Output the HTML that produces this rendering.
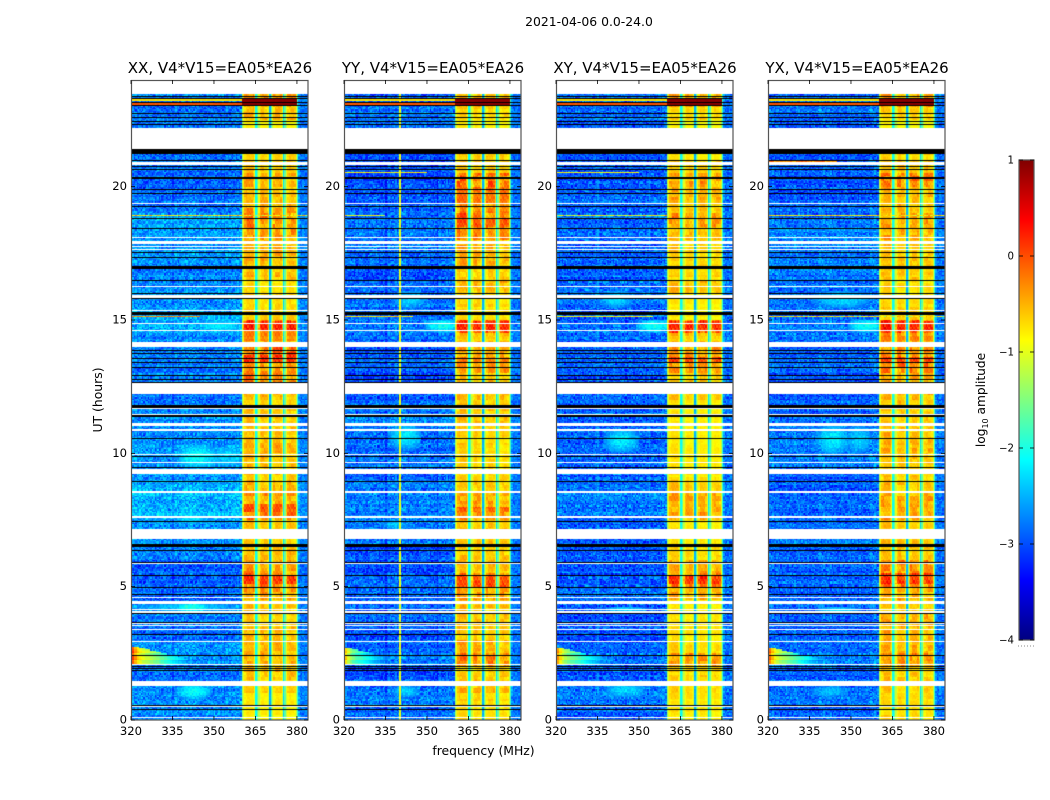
<!DOCTYPE html>
<html lang="en">
<head>
<meta charset="utf-8">
<title>2021-04-06 0.0-24.0 amplitude waterfall</title>
<style>
html,body{margin:0;padding:0;background:#fff}
#stage{position:relative;width:1050px;height:800px;overflow:hidden;background:#fff;font-family:"DejaVu Sans","Liberation Sans",sans-serif}
canvas{position:absolute;display:block}
svg{position:absolute;left:0;top:0}
svg text{font-family:"DejaVu Sans","Liberation Sans",sans-serif;fill:#000}
</style>
</head>
<body>
<div id="stage">
<svg id="overlay" width="1050" height="800" viewBox="0 0 1050 800">
  <defs>
    <linearGradient id="jetGradient" x1="0" y1="1" x2="0" y2="0"></linearGradient>
  </defs>
  <text x="589" y="26" text-anchor="middle" font-size="12.4">2021-04-06 0.0-24.0</text>
  <text x="483.5" y="755" text-anchor="middle" font-size="12.4">frequency (MHz)</text>
  <text transform="translate(102,400) rotate(-90)" text-anchor="middle" font-size="12.4">UT (hours)</text>
  <text transform="translate(985,400) rotate(-90)" text-anchor="middle" font-size="12.2">log<tspan font-size="8" dy="3">10</tspan><tspan dy="-3"> amplitude</tspan></text>
  <line x1="1018" y1="646" x2="1035" y2="646" stroke="#888" stroke-width="1" stroke-dasharray="1 2"></line>
</svg>
</div>
<script>
// ---------- axis domains and labels ----------
const panelTitles = ["XX, V4*V15=EA05*EA26", "YY, V4*V15=EA05*EA26", "XY, V4*V15=EA05*EA26", "YX, V4*V15=EA05*EA26"];
const panelKeys = ["xx", "yy", "xy", "yx"];
const freqTicks = [320, 335, 350, 365, 380];
const hourTicks = [0, 5, 10, 15, 20];
const colorbarTicks = [1, 0, -1, -2, -3, -4];
const freqDomain = [320, 384];
const hourDomain = [0, 24];
const levelDomain = [-4, 1];

// ---------- flagged time ranges, common to all products (UT hours) ----------
const whiteLineHours = [0.09, 0.50, 2.09, 2.93, 3.41, 3.54, 3.63, 4.05, 4.13, 4.59, 5.88, 7.14, 8.55, 9.66, 9.94, 11.46, 11.69, 14.61, 14.88, 15.36, 16.26, 17.63, 17.74, 18.08, 19.38];
const whiteSpanStarts = [1.28, 4.35, 6.79, 7.58, 9.23, 10.85, 11.04, 12.23, 14.00, 15.83, 17.85, 20.82, 21.41, 23.48];
const whiteSpanEnds = [1.46, 4.46, 7.11, 7.65, 9.41, 10.91, 11.13, 12.64, 14.18, 15.95, 17.96, 20.94, 22.21, 24.00];
const blackLineHours = [0.40, 0.56, 1.85, 1.94, 2.00, 2.41, 3.21, 3.66, 3.99, 4.69, 4.96, 5.43, 5.91, 6.35, 7.46, 8.94, 9.48, 9.87, 10.56, 12.64, 12.76, 12.93, 13.22, 13.41, 13.54, 13.75, 13.86, 15.79, 16.01, 16.49, 17.33, 17.54, 18.42, 18.81, 19.26, 19.76, 19.88, 20.64, 20.74, 20.99, 22.35, 22.43, 22.60, 22.73, 23.03, 23.16, 23.30, 23.39];
const blackSpanStarts = [6.50, 11.36, 11.70, 15.18, 16.92, 20.30, 21.22];
const blackSpanEnds = [6.60, 11.45, 11.82, 15.29, 17.04, 20.37, 21.41];

// ---------- off-band spectral shape, one value per 1 MHz channel from 320 MHz ----------
const lowChannelOffset = [0.05,0.02,0,0.03,-0.02,0,0.04,0,-0.03,0.02,0,0.03,0,-0.02,0.04,0,0.02,-0.02,0.05,0.04,0.03,0.05,0.03,0.02,0,-0.03,0,0.02,-0.02,0,0.03,0,-0.02,0,0.02,0,0.03,0.05,0.06,0.08];
const lowCalibration = -0.12;

// ---------- in-band shape, one value per 0.5 MHz channel from 360 MHz ----------
const highChannelBase = [-1.4,-1.1,
  -.9,-.82,-.8,-.8,-.8,-.8,-.85,-1.05,
  -2.1,-1.7,
  -1.25,-1.0,-.88,-.85,-.85,-.88,-.95,-1.15,
  -2.5,-1.7,
  -1.2,-.95,-.85,-.85,-.85,-.85,-.9,-1.15,
  -2.3,-1.7,
  -1.2,-.95,-.87,-.85,-.87,-.87,-.95,-1.25,
  -1.9,-2.6,
  -2.9,-2.85,-2.8,-2.8,-2.85,-2.85];
const highChannelGain = [.3,.6,
  1,1,1,1,1,1,1,.7,
  .15,.3,
  .7,1,1,1,1,1,1,.7,
  .05,.3,
  .7,1,1,1,1,1,1,.7,
  .1,.3,
  .7,1,1,1,1,1,1,.6,
  .1,0,
  0,0,0,0,0,0];
const quietExcessScale = 0.85;

// ---------- half-hour level above the in-band floor (4 lines of 12 = 48 bins) ----------
const excessXX = [.05,.15,.25,.35,.4,.35,.4,.25,.3,.55,.75,.5,
                  .35,.3,.3,.7,.55,.45,.3,.35,.4,.35,.3,.3,
                  .4,.7,.55,.85,.5,.9,.25,.3,.2,.35,.4,.4,
                  .55,.6,.5,.35,.45,.3,.2,0,0,.4,.6,1.2];
const excessYY = [.15,.2,.4,.3,.6,.4,.3,.3,.3,.55,.7,.4,
                  .3,.3,.3,.6,.45,.3,.25,.2,.2,.25,.3,.25,
                  .4,.35,.6,.5,.4,.9,.15,.2,.4,.3,.4,.4,
                  .6,.75,.55,.75,.8,.3,.3,0,0,.2,.4,1.2];
const excessXY = [.1,.1,.15,.2,.55,.2,.15,.15,.1,.4,.7,.45,
                  .2,.15,.1,.45,.4,.25,.1,.1,.1,.1,.1,.1,
                  .25,.3,.6,.55,.4,.9,.05,.05,.3,.2,.2,.3,
                  .35,.55,.3,.4,.5,.25,.1,0,0,.2,.4,1.2];
const excessYX = [.2,.2,.3,.3,.6,.4,.4,.45,.3,.45,.8,.6,
                  .3,.3,.25,.5,.5,.3,.3,.3,.4,.35,.3,.3,
                  .4,.45,.7,.6,.5,.9,.3,.2,.2,.3,.3,.3,
                  .45,.5,.35,.4,.7,.3,.2,0,0,.3,.5,1.2];

// ---------- half-hour off-band log10 amplitude ----------
const lowXX = [-2.6,-2.5,-2.6,-2.7,-2.6,-2.6,-2.75,-2.65,-2.6,-2.75,-2.75,-2.8,
               -2.7,-2.5,-2.55,-2.35,-2.35,-2.4,-2.5,-2.6,-2.55,-2.6,-2.55,-2.6,
               -2.7,-2.6,-2.7,-2.7,-2.6,-2.4,-2.45,-2.5,-2.55,-2.6,-2.6,-2.55,
               -2.5,-2.45,-2.65,-2.75,-2.75,-2.7,-2.8,-2.7,-2.7,-2.7,-2.6,-2.6];
const lowYY = [-2.8,-2.65,-2.7,-2.85,-2.7,-2.75,-2.85,-2.8,-2.8,-2.75,-2.75,-2.85,
               -2.85,-2.7,-2.7,-2.65,-2.65,-2.65,-2.75,-2.7,-2.7,-2.7,-2.65,-2.75,
               -2.85,-2.85,-2.75,-2.8,-2.7,-2.7,-2.8,-2.7,-2.75,-2.8,-2.75,-2.65,
               -2.7,-2.75,-2.8,-2.85,-2.85,-2.85,-2.85,-2.8,-2.8,-2.7,-2.75,-2.7];
const lowXY = [-2.8,-2.7,-2.75,-2.85,-2.75,-2.8,-2.85,-2.85,-2.8,-2.8,-2.85,-2.85,
               -2.85,-2.75,-2.8,-2.7,-2.7,-2.75,-2.8,-2.8,-2.75,-2.75,-2.75,-2.8,
               -2.85,-2.85,-2.8,-2.8,-2.75,-2.7,-2.8,-2.75,-2.75,-2.8,-2.8,-2.75,
               -2.75,-2.75,-2.8,-2.85,-2.85,-2.85,-2.85,-2.8,-2.8,-2.75,-2.75,-2.75];
const lowYX = [-2.75,-2.7,-2.7,-2.8,-2.7,-2.75,-2.8,-2.8,-2.7,-2.8,-2.75,-2.85,
               -2.8,-2.7,-2.75,-2.7,-2.75,-2.8,-2.8,-2.7,-2.65,-2.7,-2.7,-2.75,
               -2.85,-2.85,-2.8,-2.8,-2.7,-2.65,-2.7,-2.7,-2.7,-2.7,-2.7,-2.65,
               -2.6,-2.65,-2.75,-2.85,-2.85,-2.85,-2.85,-2.8,-2.8,-2.7,-2.7,-2.7];

// ---------- short in-band bursts: panel, start h, end h, level above floor ----------
const burstPanels = [0,0,0,0,0,0, 1,1,1,1,1,1, 2,2,2, 3,3,3];
const burstStarts = [14.6,14.35,5.1,13.4,12.9,7.8, 14.6,5.0,7.8,13.4,19.4,18.5, 14.6,5.1,13.4, 14.6,5.1,13.4];
const burstEnds   = [14.95,14.6,5.4,13.7,13.1,8.1, 14.95,5.4,8.0,13.6,20.0,18.8, 14.95,5.4,13.6, 14.95,5.5,13.6];
const burstLevels = [1.05,.6,1.0,1.0,.6,.85, 1.05,.85,.7,.6,.7,.8, 1.05,1.0,.9, 1.05,.95,.9];

// ---------- diffuse off-band patches: panel, start h, end h, start MHz, end MHz, log10 level ----------
const patchPanels = [0,0,0,0,0,0,0, 1,1,1,1,1, 2,2,2,2,2, 3,3,3,3,3,3];
const patchStarts = [0.75,4.05,4.05,9.4,9.4,14.5,7.3, 0.8,10.1,15.4,14.5,7.1, 0.8,10.0,15.4,14.5,3.95, 9.9,9.9,15.4,14.5,3.95,0.8];
const patchEnds   = [1.35,4.35,4.35,10.3,10.3,15.0,7.8, 1.3,11.1,16.1,15.0,7.5, 1.4,10.9,16.1,15.0,4.25, 11.1,11.1,16.1,15.0,4.25,1.3];
const patchFrom   = [336,320,335,336,347,343,335, 337,336,337,349,333, 337,337,335,349,337, 337,347,335,349,337,335];
const patchTo     = [349,361,349,352,362,362,348, 347,348,350,362,343, 353,350,348,362,353, 349,358,358,362,353,349];
const patchLevels = [-2.1,-2.3,-2.0,-2.1,-2.3,-2.2,-2.25, -2.3,-2.2,-2.3,-2.05,-2.35, -2.3,-2.2,-2.3,-2.05,-2.3, -2.2,-2.35,-2.3,-2.05,-2.3,-2.4];

// ---------- narrow-band / impulsive rows: panel (-1 = all), start h, end h, start MHz, end MHz, log10 level ----------
const rfiPanels = [-1,-1,-1,-1, 0,0, 1,1,1, 2,2,2, 3,3,3];
const rfiStarts = [23.05,23.17,23.31,23.05, 18.88,15.08, 20.46,18.88,15.08, 20.46,18.88,15.08, 20.88,18.88,15.08];
const rfiEnds   = [23.15,23.28,23.38,23.30, 18.93,15.13, 20.51,18.93,15.13, 20.51,18.93,15.13, 20.93,18.93,15.13];
const rfiFrom   = [320,320,320,360, 320,320, 320,320,320, 320,320,320, 320,320,320];
const rfiTo     = [360,360,384,380, 384,345, 350,335,345, 350,360,355, 345,384,384];
const rfiLevels = [-.05,-.75,-1.5,.95, -.9,-.4, -.85,-.9,-.6, -.85,-1.0,-.85, -.3,-.85,-.85];
const rfiSpeckleGain = [.2,.2,.2,.1, 1.4,1, .5,1,1, .5,1.4,.8, .8,1.4,1.4];

// ---------- constant-frequency interference line in YY ----------
const rfiLinePanel = 1;
const rfiLineMHz = 340;
const rfiLineLevel = -1.0;

// ---------- low-edge flare, decay along frequency from 320 MHz ----------
const flareProfile = [0.2,-0.25,-0.55,-0.75,-0.9,-1.0,-1.05,-1.15,-1.25,-1.35,-1.45,-1.55,-1.65,-1.75,-1.85,-1.95,-2.05,-2.15,-2.25,-2.3];
const flarePanels = [0,1,2,3];
const flareStarts = [2.05,2.05,2.05,2.05];
const flareEnds   = [2.75,2.7,2.7,2.7];
const flareScales = [0.0,0.35,0.2,0.1];

// ---------- fixed small-scale texture sampled across the grid ----------
const speckle = [0.12,-0.31,0.05,0.27,-0.14,0.33,-0.22,0.02,0.18,-0.35,0.09,-0.05,0.30,-0.26,0.15,-0.11,0.24,-0.33,0.07,0.21,-0.18,-0.02,0.35,-0.29,0.11,-0.08,0.26,-0.20,0.03,0.17,-0.36,0.22,-0.13,0.29,-0.24,0.06,-0.16];

const excessByPanel = [excessXX, excessYY, excessXY, excessYX];
const lowByPanel = [lowXX, lowYY, lowXY, lowYX];
const panelLefts = [131, 344, 556, 768];
const plotTop = 80, plotBottom = 720, plotWidth = 177;
const colorbarLeft = 1019, colorbarRight = 1034, colorbarTop = 160, colorbarBottom = 640;
const channelCount = (freqDomain[1] - freqDomain[0]) * 2;
const rowCount = (hourDomain[1] - hourDomain[0]) * 20;

function xScale(panel, mhz){ return panelLefts[panel] + (mhz - freqDomain[0]) / (freqDomain[1] - freqDomain[0]) * plotWidth; }
function yScale(hour){ return plotBottom - (hour - hourDomain[0]) / (hourDomain[1] - hourDomain[0]) * (plotBottom - plotTop); }
function levelY(level){ return colorbarBottom - (level - levelDomain[0]) / (levelDomain[1] - levelDomain[0]) * (colorbarBottom - colorbarTop); }

function jet(t){
  t = Math.max(0, Math.min(1, t));
  const ramp = function(v){ return Math.round(255 * Math.max(0, Math.min(1, v))); };
  return [ramp(1.5 - Math.abs(4 * t - 3)), ramp(1.5 - Math.abs(4 * t - 2)), ramp(1.5 - Math.abs(4 * t - 1))];
}

function cellValue(p, r, c){
  const hour = r / 20, mhz = freqDomain[0] + c / 2;
  const ci = c >> 1, len = speckle.length;
  const bin = Math.min(47, Math.floor(hour * 2));
  const fine = speckle[(r * r * 3 + c * c * 5 + r * c * 2 + c * 11 + p * 17) % len];
  const grain = speckle[(r * c + r * 7 + c * c * c + p * 3) % len];
  const n = (fine + grain) * 0.75;
  const rowTone = speckle[((r >> 1) * 13 + p * 5) % len];
  let v;
  if (c >= 80) {
    const k = c - 80;
    let excess = excessByPanel[p][bin] * quietExcessScale, patchy = 1.4;
    for (let i = 0; i < burstPanels.length; i++) {
      if (burstPanels[i] === p && hour >= burstStarts[i] && hour < burstEnds[i]) { excess = burstLevels[i]; patchy = 0.25; }
    }
    const blotch = speckle[((r >> 2) * 7 + (c >> 2) * 3 + (r >> 2) * (c >> 2) + p * 11) % len];
    const streak = speckle[((r + c * 2 + p * 9) >> 1) % len];
    if (highChannelGain[k] === 0) {
      v = lowByPanel[p][bin] * 0.3 + highChannelBase[k] * 0.7 + n * 0.8;
    } else {
      v = highChannelBase[k] + highChannelGain[k] * (excess * (1 + blotch * patchy + streak * 0.7) + rowTone * 0.18) + n * 0.14;
    }
  } else {
    v = lowByPanel[p][bin] + lowCalibration + lowChannelOffset[ci] + n * 1.0 + rowTone * 0.3;
    for (let i = 0; i < patchPanels.length; i++) {
      if (patchPanels[i] === p && hour >= patchStarts[i] && hour < patchEnds[i] && mhz >= patchFrom[i] && mhz < patchTo[i]) {
        const u = 2 * (mhz - patchFrom[i]) / (patchTo[i] - patchFrom[i]) - 1;
        const w = 2 * (hour - patchStarts[i]) / (patchEnds[i] - patchStarts[i]) - 1;
        const level = patchLevels[i] - (u * u + w * w) * 0.5 + n * 0.45;
        if (level > v) v = level;
      }
    }
    for (let i = 0; i < flarePanels.length; i++) {
      if (flarePanels[i] === p && ci < flareProfile.length && hour >= flareStarts[i]) {
        const top = flareStarts[i] + (flareEnds[i] - flareStarts[i]) * (1 - 0.7 * ci / flareProfile.length);
        if (hour < top) {
          const f = flareProfile[ci] - flareScales[i] * 2 - ((r % 5) * 0.09) + n * 0.15;
          if (f > v) v = f;
        }
      }
    }
    if (p === rfiLinePanel && mhz === rfiLineMHz) v = rfiLineLevel + n * 0.3;
  }
  for (let i = 0; i < rfiPanels.length; i++) {
    if ((rfiPanels[i] === -1 || rfiPanels[i] === p) && hour >= rfiStarts[i] && hour < rfiEnds[i] && mhz >= rfiFrom[i] && mhz < rfiTo[i]) {
      v = rfiLevels[i] + n * rfiSpeckleGain[i];
    }
  }
  return v;
}

const stage = document.getElementById('stage');
const overlay = document.getElementById('overlay');
const NS = 'http://www.w3.org/2000/svg';

function svgEl(tag, attrs){
  const el = document.createElementNS(NS, tag);
  for (const key in attrs) el.setAttribute(key, attrs[key]);
  overlay.appendChild(el);
  return el;
}

function drawBand(ctx, startHour, endHour, color){
  const y0 = yScale(endHour) - plotTop, y1 = yScale(startHour) - plotTop;
  ctx.fillStyle = color;
  ctx.fillRect(0, Math.round(y0), plotWidth, Math.max(1, Math.round(y1) - Math.round(y0)));
}

panelTitles.forEach(function(title, p){
  const left = panelLefts[p];
  const canvas = document.createElement('canvas');
  
  
  canvas.width = plotWidth;
  canvas.height = plotBottom - plotTop;
  canvas.style.left = left + 'px';
  canvas.style.top = plotTop + 'px';
  stage.insertBefore(canvas, overlay);
  const ctx = canvas.getContext('2d');
  ctx.fillStyle = '#fff';
  ctx.fillRect(0, 0, canvas.width, canvas.height);

  for (let r = 0; r < rowCount; r++) {
    const yA = Math.round(yScale((r + 1) / 20)) - plotTop;
    const yB = Math.round(yScale(r / 20)) - plotTop;
    for (let c = 0; c < channelCount; c++) {
      const xA = Math.round(xScale(p, freqDomain[0] + c / 2)) - left;
      const xB = Math.round(xScale(p, freqDomain[0] + (c + 1) / 2)) - left;
      const v = cellValue(p, r, c);
      const col = jet((v - levelDomain[0]) / (levelDomain[1] - levelDomain[0]));
      ctx.fillStyle = 'rgb(' + col[0] + ',' + col[1] + ',' + col[2] + ')';
      ctx.fillRect(xA, yA, xB - xA, yB - yA);
    }
  }
  blackLineHours.forEach(function(h){ drawBand(ctx, h - 0.018, h + 0.018, '#000'); });
  blackSpanStarts.forEach(function(s, i){ drawBand(ctx, s, blackSpanEnds[i], '#000'); });
  whiteLineHours.forEach(function(h){ drawBand(ctx, h - 0.02, h + 0.02, '#fff'); });
  whiteSpanStarts.forEach(function(s, i){ drawBand(ctx, s, whiteSpanEnds[i], '#fff'); });

  const frame = svgEl('rect', {x: left + 0.5, y: plotTop + 0.5, width: plotWidth - 0.5, height: plotBottom - plotTop - 0.5, fill: 'none', stroke: '#555', 'stroke-width': 1.2});
  
  

  const heading = svgEl('text', {x: left + plotWidth / 2 + 0.5, y: 73, 'text-anchor': 'middle', 'font-size': 15});
  heading.textContent = title;
  
  

  freqTicks.forEach(function(f){
    const x = xScale(p, f);
    [[plotTop, plotTop + 4], [plotBottom - 4, plotBottom]].forEach(function(pair){
      const tick = svgEl('line', {x1: x, x2: x, y1: pair[0], y2: pair[1], stroke: '#000', 'stroke-width': 0.8});
      
      
    });
    const label = svgEl('text', {x: x, y: 735, 'text-anchor': 'middle', 'font-size': 11.6});
    label.textContent = f;
    
    
  });

  hourTicks.forEach(function(h){
    const y = yScale(h);
    [[left, left + 4], [left + plotWidth - 4, left + plotWidth]].forEach(function(pair){
      const tick = svgEl('line', {x1: pair[0], x2: pair[1], y1: y, y2: y, stroke: '#000', 'stroke-width': 0.8});
      
      
    });
    const label = svgEl('text', {x: left - 4, y: y + 3.5, 'text-anchor': 'end', 'font-size': 11.6});
    label.textContent = h;
    
    
  });
});

// ---------- colorbar ----------
const gradient = document.getElementById('jetGradient');
for (let i = 0; i <= 16; i++) {
  const stop = document.createElementNS(NS, 'stop');
  const col = jet(i / 16);
  stop.setAttribute('offset', (i / 16 * 100) + '%');
  stop.setAttribute('stop-color', 'rgb(' + col[0] + ',' + col[1] + ',' + col[2] + ')');
  gradient.appendChild(stop);
}
const colorbar = svgEl('rect', {x: colorbarLeft, y: colorbarTop, width: colorbarRight - colorbarLeft, height: colorbarBottom - colorbarTop, fill: 'url(#jetGradient)', stroke: '#555', 'stroke-width': 1.2});



colorbarTicks.forEach(function(level){
  const y = levelY(level);
  [[colorbarLeft, colorbarLeft + 4], [colorbarRight - 4, colorbarRight]].forEach(function(pair){
    const tick = svgEl('line', {x1: pair[0], x2: pair[1], y1: y, y2: y, stroke: '#000', 'stroke-width': 0.8});
    
    
  });
  const label = svgEl('text', {x: colorbarLeft - 5, y: y + 3.5, 'text-anchor': 'end', 'font-size': 10.2});
  label.textContent = String(level).replace('-', '\u2212');
  
  
});
</script>
</body>
</html>
